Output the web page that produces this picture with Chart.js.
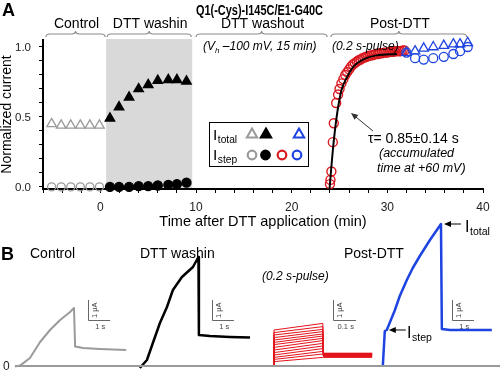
<!DOCTYPE html>
<html>
<head>
<meta charset="utf-8">
<script src="https://cdn.jsdelivr.net/npm/chart.js@4.4.1/dist/chart.umd.min.js"></script>
<style>
  html, body { margin: 0; padding: 0; background: #fff; }
  #wrap { position: relative; width: 500px; height: 371px; overflow: hidden; }
  #wrap canvas { position: absolute; left: 0; }
  #panelA { top: 0; z-index: 2; }
  #panelB { top: 212px; z-index: 1; }
</style>
</head>
<body>
<div id="wrap">
  <canvas id="panelA" width="500" height="234"></canvas>
  <canvas id="panelB" width="500" height="159"></canvas>
</div>
<script>
// ---- panel A: normalized current vs time after DTT (min) ----
const ctrlTime  = [-5.1, -4.1, -3.1, -2.1, -1.1, -0.1];
const ctrlTotal = [0.45, 0.44, 0.44, 0.44, 0.44, 0.44];
const ctrlStep  = [0, 0, 0, 0, 0, 0];

const washTime  = [1.0, 1.95, 3.0, 4.0, 5.0, 6.0, 7.1, 8.0, 9.0];
const washTotal = [0.49, 0.57, 0.64, 0.70, 0.73, 0.76, 0.765, 0.765, 0.755];
const washStep  = [0, 0, 0, 0.005, 0.005, 0.01, 0.015, 0.02, 0.03];

// 0.2 s pulses after washout (I step only)
const pulseTime = [24.0, 24.05, 24.15, 24.3, 24.4, 24.65, 24.85,
  25.0, 25.2, 25.4, 25.6, 25.8, 26.0, 26.2, 26.4, 26.6, 26.8,
  27.0, 27.2, 27.4, 27.6, 27.8, 28.0, 28.2, 28.4, 28.6, 28.8,
  29.0, 29.2, 29.4, 29.6, 29.8, 30.0, 30.2, 30.4, 30.6, 30.8,
  31.0, 31.2, 31.4, 31.6, 31.8];
const pulseStep = [0.02, 0.05, 0.11, 0.32, 0.455, 0.6, 0.66,
  0.7, 0.74, 0.77, 0.8, 0.82, 0.84, 0.86, 0.875, 0.885, 0.895,
  0.905, 0.91, 0.92, 0.925, 0.93, 0.935, 0.94, 0.94, 0.945, 0.95,
  0.95, 0.955, 0.955, 0.96, 0.96, 0.96, 0.965, 0.965, 0.965, 0.97,
  0.97, 0.97, 0.97, 0.975, 0.975];

// exponential fit drawn through the pulses
const fitTime  = [23.95, 24.3, 24.7, 25.2, 25.75, 26.45, 27.45, 28.9, 31.0];
const fitValue = [-0.02, 0.26, 0.5, 0.69, 0.78, 0.86, 0.91, 0.94, 0.95];

const postTime  = [32.0, 32.9, 33.8, 34.8, 35.9, 36.9, 37.6, 38.4];
const postTotal = [0.96, 0.97, 0.99, 1.0, 1.01, 1.02, 1.02, 1.03];
const postStep  = [0.96, 0.92, 0.91, 0.92, 0.93, 0.95, 0.97, 1.0];

const xTickLabels = [0, 10, 20, 30, 40];
const yTickLabels = ['0.0', '0.5', '1.0'];

const phases = [
  {label: 'Control', from: -5.8, to: 0.6},
  {label: 'DTT washin', from: 0.6, to: 9.6},
  {label: 'DTT washout', from: 9.9, to: 23.8},
  {label: 'Post-DTT', from: 24.0, to: 38.4}
];
const shadeFrom = 0.6, shadeTo = 9.6;

// ---- panel B: current traces (s from trace start, uA) ----
const ctrlTraceT = [0, 0.23, 0.68, 1.14, 1.59, 2.05, 2.5, 2.68, 2.73, 3.09, 3.86, 5.05];
const ctrlTraceI = [-0.03, 0.02, 0.4, 1.2, 1.8, 2.3, 2.7, 2.9, 0.97, 0.9, 0.85, 0.8];

const washTraceT = [0, 0.32, 0.59, 0.91, 1.23, 1.5, 1.91, 2.41, 2.66, 2.68, 3.18, 4.09, 5.0];
const washTraceI = [-0.1, 0.3, 1.15, 2.15, 2.95, 3.8, 4.45, 4.95, 5.45, 1.55, 1.5, 1.45, 1.42];

const postTraceT = [0, 0.09, 0.18, 0.55, 0.77, 1.09, 1.36, 1.68, 2.14, 2.64, 2.68, 3.05, 3.95, 4.95];
const postTraceI = [0, 1.75, 1.8, 2.8, 3.5, 4.3, 4.9, 5.5, 6.3, 7.1, 1.85, 1.8, 1.8, 1.8];

// family of 0.2 s pulses (fast time base)
const pulseTraceT = [0, 0.004, 0.216, 0.219, 0.43];
const redStart = [1.80, 1.67, 1.55, 1.42, 1.30, 1.18, 1.07, 0.93, 0.80, 0.67, 0.55, 0.43, 0.33, 0.22];
const redEnd   = [2.13, 1.97, 1.83, 1.72, 1.60, 1.50, 1.38, 1.27, 1.13, 1.00, 0.87, 0.73, 0.60, 0.43];
const redTail  = [0.64, 0.62, 0.61, 0.60, 0.59, 0.58, 0.57, 0.56, 0.55, 0.53, 0.51, 0.49, 0.47, 0.43];

const traceStart = {ctrl: 0.68, wash: 6.35, post: 17.38, pulse: 1.185};
const baselineSpan = [0.68, 22.7];

const FONT = '"Liberation Sans", Arial, sans-serif';
const GRAY = '#9a9a9a', RED = '#d9191f', BLUE = '#1d43e0';
const B_TOP = 212; // page offset of the panel B canvas

Chart.defaults.font.family = FONT;
Chart.defaults.color = '#111';

function pts(xs, ys) {
  return xs.map((v, i) => ({x: v, y: ys[i]}));
}

function markers(xs, ys, style, color, filled, radius, lw) {
  return {
    data: pts(xs, ys), showLine: false, clip: false,
    pointStyle: style, pointRadius: radius, pointHoverRadius: radius,
    pointBorderColor: color, pointBorderWidth: lw || 1.3,
    pointBackgroundColor: filled ? color : 'rgba(0,0,0,0)'
  };
}

function tickRange(a, b, step) {
  const out = [];
  for (let i = 0; a + i * step <= b + 1e-9; i++)
    out.push({value: Math.round((a + i * step) * 1000) / 1000});
  return out;
}

function text(ctx, s, x, y, font, color, align, width) {
  ctx.save();
  ctx.font = font;
  ctx.fillStyle = color || '#000';
  ctx.textBaseline = 'alphabetic';
  ctx.textAlign = 'left';
  const w = ctx.measureText(s).width;
  const sx = width ? width / w : 1;
  let x0 = x;
  if (align === 'center') x0 = x - w * sx / 2;
  else if (align === 'right') x0 = x - w * sx;
  ctx.translate(x0, y);
  ctx.scale(sx, 1);
  ctx.fillText(s, 0, 0);
  ctx.restore();
  return x0 + w * sx;
}

function brace(ctx, x1, x2, y) {
  const m = (x1 + x2) / 2;
  ctx.beginPath();
  ctx.moveTo(x1, y + 3);
  ctx.quadraticCurveTo(x1, y, x1 + 4, y);
  ctx.lineTo(m - 4, y);
  ctx.quadraticCurveTo(m, y, m, y - 3);
  ctx.quadraticCurveTo(m, y, m + 4, y);
  ctx.lineTo(x2 - 4, y);
  ctx.quadraticCurveTo(x2, y, x2, y + 3);
  ctx.stroke();
}

function arrow(ctx, x1, y1, x2, y2, color, lw) {
  const a = Math.atan2(y2 - y1, x2 - x1), L = 7, W = 3;
  ctx.save();
  ctx.strokeStyle = ctx.fillStyle = color;
  ctx.lineWidth = lw;
  ctx.beginPath();
  ctx.moveTo(x1, y1);
  ctx.lineTo(x2 - Math.cos(a) * L * 0.8, y2 - Math.sin(a) * L * 0.8);
  ctx.stroke();
  ctx.beginPath();
  ctx.moveTo(x2, y2);
  ctx.lineTo(x2 - Math.cos(a) * L - Math.sin(a) * W, y2 - Math.sin(a) * L + Math.cos(a) * W);
  ctx.lineTo(x2 - Math.cos(a) * L + Math.sin(a) * W, y2 - Math.sin(a) * L - Math.cos(a) * W);
  ctx.closePath();
  ctx.fill();
  ctx.restore();
}

function keyTri(ctx, cx, cy, r, color, filled) {
  ctx.beginPath();
  ctx.moveTo(cx, cy - r);
  ctx.lineTo(cx + r * 0.866, cy + r * 0.5);
  ctx.lineTo(cx - r * 0.866, cy + r * 0.5);
  ctx.closePath();
  if (filled) { ctx.fillStyle = color; ctx.fill(); }
  ctx.strokeStyle = color; ctx.lineWidth = 2; ctx.stroke();
}

function keyDot(ctx, cx, cy, r, color, filled) {
  ctx.beginPath();
  ctx.arc(cx, cy, r, 0, Math.PI * 2);
  if (filled) { ctx.fillStyle = color; ctx.fill(); }
  ctx.strokeStyle = color; ctx.lineWidth = 2.2; ctx.stroke();
}

// sub-scripted label such as I_total
function subLabel(ctx, main, sub, x, y, size) {
  const x1 = text(ctx, main, x, y, size + 'px ' + FONT);
  text(ctx, sub, x1 + 0.5, y + 3, (size * 0.66) + 'px ' + FONT);
}

const panelADecor = {
  id: 'panelADecor',
  beforeDatasetsDraw(chart) {
    const {ctx, chartArea: area, scales: {x}} = chart;
    const x1 = x.getPixelForValue(shadeFrom), x2 = x.getPixelForValue(shadeTo);
    ctx.save();
    ctx.fillStyle = '#d9d9d9';
    ctx.fillRect(x1, area.top - 1, x2 - x1, area.bottom - area.top);
    ctx.restore();
  },
  afterDraw(chart) {
    const {ctx, chartArea: area, scales: {x, y}} = chart;
    text(ctx, 'A', 2, 16, 'bold 18px ' + FONT);
    text(ctx, 'Q1(-Cys)-I145C/E1-G40C', 196, 15, 'bold 14.5px ' + FONT, '#000', 'left', 127);

    ctx.save();
    ctx.strokeStyle = '#8a8a8a';
    ctx.lineWidth = 1.2;
    phases.forEach(p => {
      const x1 = x.getPixelForValue(p.from), x2 = x.getPixelForValue(p.to);
      brace(ctx, x1 + 1, x2 - 1, 34);
      text(ctx, p.label, (x1 + x2) / 2 + 1, 28, '14px ' + FONT, '#000', 'center');
    });
    ctx.restore();

    // pulse protocol notes
    const it = 'italic 12px ' + FONT;
    let cx = text(ctx, '(V', 203, 50, it);
    cx = text(ctx, 'h', cx, 53, 'italic 8px ' + FONT);
    text(ctx, ' \u2013100 mV, 15 min)', cx, 50, it);
    text(ctx, '(0.2 s-pulse)', 332, 50, it);

    // key box
    ctx.save();
    ctx.strokeStyle = '#000';
    ctx.lineWidth = 1;
    ctx.strokeRect(209.5, 122.5, 99, 44);
    subLabel(ctx, 'I', 'total', 213, 140, 15.5);
    subLabel(ctx, 'I', 'step', 213, 160, 15.5);
    keyTri(ctx, 252, 134.5, 6, GRAY, false);
    keyTri(ctx, 266, 134.5, 6, '#000', true);
    keyTri(ctx, 299, 134.5, 6, BLUE, false);
    keyDot(ctx, 252, 155, 4.3, GRAY, false);
    keyDot(ctx, 265.5, 155, 4.3, '#000', true);
    keyDot(ctx, 282, 155, 4.3, RED, false);
    keyDot(ctx, 297, 155, 4.3, BLUE, false);
    ctx.restore();

    // time constant note
    arrow(ctx, 373, 131, 351, 113, '#333', 1);
    text(ctx, '\u03c4= 0.85\u00b10.14 s', 368, 143, '14px ' + FONT);
    text(ctx, '(accumulated', 379, 157, 'italic 12.5px ' + FONT);
    text(ctx, 'time at +60 mV)', 377, 172, 'italic 12.5px ' + FONT);

    // y tick labels last, on the labelled ticks of the y scale
    yTickLabels.forEach(s => {
      text(ctx, s, area.left - 12, y.getPixelForValue(parseFloat(s)) + 4, '11.5px ' + FONT, '#222', 'right');
    });
  }
};

new Chart(document.getElementById('panelA'), {
  type: 'scatter',
  data: {
    datasets: [
      {data: pts(fitTime, fitValue), showLine: true, borderColor: '#000', borderWidth: 2,
       pointRadius: 0, cubicInterpolationMode: 'monotone', clip: false},
      markers(postTime, postTotal, 'triangle', BLUE, false, 5.5),
      markers(postTime, postStep, 'circle', BLUE, false, 4.5),
      markers(pulseTime, pulseStep, 'circle', RED, false, 4.5, 1.4),
      markers(washTime, washTotal, 'triangle', '#000', true, 5.5),
      markers(washTime, washStep, 'circle', '#000', true, 4.5),
      markers(ctrlTime, ctrlTotal, 'triangle', GRAY, false, 5.5),
      markers(ctrlTime, ctrlStep, 'circle', GRAY, false, 4)
    ]
  },
  options: {
    responsive: false,
    animation: false,
    devicePixelRatio: 1,
    events: [],
    layout: {padding: {top: 40, right: 17, left: 0, bottom: 0}},
    plugins: {legend: {display: false}, tooltip: {enabled: false}},
    scales: {
      x: {
        type: 'linear', min: -6, max: 40, bounds: 'data',
        afterBuildTicks: s => { s.ticks = tickRange(-6, 40, 2); },
        afterFit: s => { s.height = 45; },
        ticks: {autoSkip: false, maxRotation: 0, padding: 7, font: {size: 12}, color: '#222',
                callback: v => xTickLabels.includes(v) ? String(v) : ''},
        grid: {drawOnChartArea: false, tickLength: 4, color: '#000', tickColor: '#000'},
        border: {color: '#000', width: 2},
        title: {display: true, text: 'Time after DTT application (min)', color: '#000',
                font: {size: 14.5}, padding: {top: 0, bottom: 3}}
      },
      y: {
        type: 'linear', min: -0.015, max: 1.05, bounds: 'data',
        afterBuildTicks: s => { s.ticks = tickRange(0, 1.0, 0.1); },
        afterFit: s => { s.width = 43; },
        ticks: {autoSkip: false, padding: 8, font: {size: 11.5}, callback: () => ''},
        grid: {drawOnChartArea: false, tickLength: 4, color: '#000', tickColor: '#000'},
        border: {color: '#000', width: 2},
        title: {display: true, text: 'Normalized current', color: '#000',
                font: {size: 14, lineHeight: 1}, padding: 0}
      }
    }
  },
  plugins: [panelADecor]
});

// ---- panel B ----
function trace(ts, is, t0, color, width, axis) {
  return {
    data: ts.map((t, k) => ({x: t0 + t, y: is[k]})),
    showLine: true, borderColor: color, borderWidth: width,
    pointRadius: 0, tension: 0, clip: false,
    borderJoinStyle: 'round', xAxisID: axis || 'x'
  };
}

const scaleBars = [
  {axis: 'x', x: 4.0, y: 2.3, w: 1, label: '1 s'},
  {axis: 'x', x: 9.62, y: 2.3, w: 1, label: '1 s'},
  {axis: 'xFast', x: 1.445, y: 2.3, w: 0.1, label: '0.1 s'},
  {axis: 'x', x: 20.52, y: 2.3, w: 1, label: '1 s'}
];

const panelBDecor = {
  id: 'panelBDecor',
  afterDatasetsDraw(chart) {
    const {ctx, scales} = chart;
    const y = scales.y;
    ctx.save();
    ctx.strokeStyle = '#666';
    ctx.lineWidth = 1;
    scaleBars.forEach(b => {
      const xs = scales[b.axis];
      const x0 = Math.round(xs.getPixelForValue(b.x)) + 0.5;
      const x1 = xs.getPixelForValue(b.x + b.w);
      const y0 = Math.round(y.getPixelForValue(b.y)) + 0.5;
      const y1 = y.getPixelForValue(b.y + 1);
      ctx.beginPath();
      ctx.moveTo(x0, y1);
      ctx.lineTo(x0, y0);
      ctx.lineTo(x1, y0);
      ctx.stroke();
      text(ctx, b.label, (x0 + x1) / 2 + 1, y0 + 8, '7.5px ' + FONT, '#444', 'center');
      ctx.save();
      ctx.translate(x0 + 8, (y0 + y1) / 2);
      ctx.rotate(-Math.PI / 2);
      text(ctx, '1 \u03bcA', 0, 0, '7.5px ' + FONT, '#444', 'center');
      ctx.restore();
    });
    ctx.restore();

    // labels placed in page coordinates
    ctx.save();
    ctx.translate(0, -B_TOP);
    text(ctx, 'B', 1, 260, 'bold 18px ' + FONT);
    text(ctx, 'Control', 30, 258, '14px ' + FONT);
    text(ctx, 'DTT washin', 140, 258, '14px ' + FONT);
    text(ctx, 'Post-DTT', 344, 258, '14px ' + FONT);
    text(ctx, '(0.2 s-pulse)', 262, 280, 'italic 12px ' + FONT);
    text(ctx, '0', 3, 370, '12px ' + FONT, '#222');
    ctx.restore();

    // I total / I step pointers on the post-DTT trace
    const peakX = scales.x.getPixelForValue(traceStart.post + postTraceT[9]);
    const peakY = y.getPixelForValue(postTraceI[9]);
    arrow(ctx, peakX + 20, peakY, peakX + 3, peakY, '#000', 1);
    subLabel(ctx, 'I', 'total', 465, peakY + 8, 16);
    const stepX = scales.x.getPixelForValue(traceStart.post + postTraceT[2]);
    const stepY = y.getPixelForValue(postTraceI[2]);
    arrow(ctx, stepX + 19, stepY, stepX + 2, stepY, '#000', 1);
    subLabel(ctx, 'I', 'step', 407, stepY + 8, 16);
  }
};

const bSets = [
  trace([0, baselineSpan[1] - baselineSpan[0]], [0, 0], baselineSpan[0], GRAY, 2),
  trace(postTraceT, postTraceI, traceStart.post, BLUE, 2.5),
  trace(washTraceT, washTraceI, traceStart.wash, '#000', 2.5),
  trace(ctrlTraceT, ctrlTraceI, traceStart.ctrl, GRAY, 2)
];
redStart.forEach((s, k) => {
  bSets.push(trace(pulseTraceT, [0, s, redEnd[k], redTail[k], redTail[k]],
                   traceStart.pulse, '#e3141c', 1, 'xFast'));
});

new Chart(document.getElementById('panelB'), {
  type: 'scatter',
  data: {datasets: bSets},
  options: {
    responsive: false,
    animation: false,
    devicePixelRatio: 1,
    events: [],
    layout: {padding: 0},
    plugins: {legend: {display: false}, tooltip: {enabled: false}},
    scales: {
      x: {type: 'linear', display: false, min: 0, max: 22.7},
      xFast: {type: 'linear', axis: 'x', display: false, min: 0, max: 2.17},
      y: {type: 'linear', display: false, min: -0.25, max: 7.7}
    }
  },
  plugins: [panelBDecor]
});
</script>
</body>
</html>
